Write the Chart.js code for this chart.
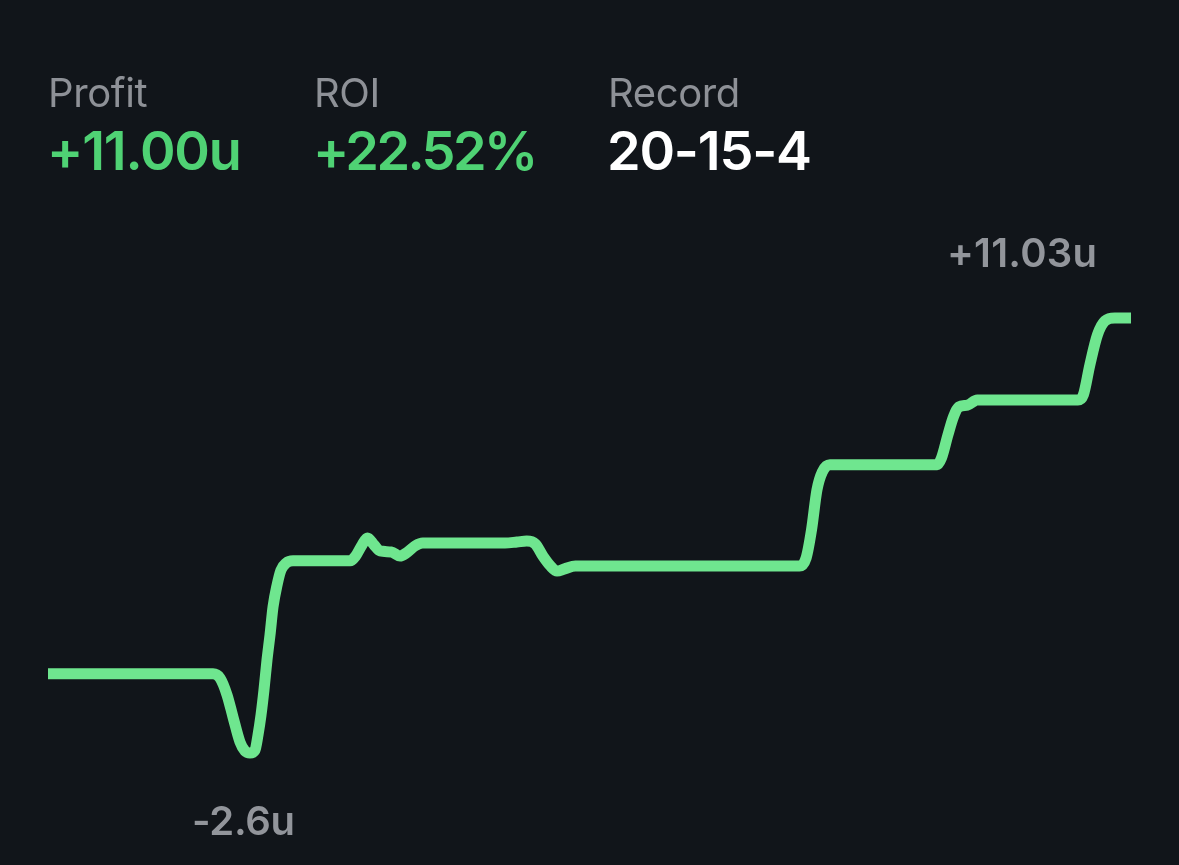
<!DOCTYPE html>
<html>
<head>
<meta charset="utf-8">
<title>Profit</title>
<script src="https://cdn.jsdelivr.net/npm/chart.js@4/dist/chart.umd.min.js"></script>
<style>
  html, body { margin: 0; padding: 0; background: #11151a; overflow: hidden; }
  body { width: 1179px; height: 865px; position: relative; font-family: Inter, "Noto Sans", sans-serif; }
  #wrap { position: absolute; left: 0; top: 0; width: 1179px; height: 865px; }
  .txt { position: absolute; white-space: nowrap; line-height: 1; }
  .head { font-size: 40px; color: #8e9197; font-weight: 400; letter-spacing: -0.4px; top: 73px; }
  .val { font-size: 54px; font-weight: 600; letter-spacing: -1.2px; top: 124px; }
  .note { font-size: 40px; font-weight: 600; color: #92959b; letter-spacing: 0.2px; }
</style>
</head>
<body>
<div id="wrap"><canvas id="profitChart" width="1179" height="865"></canvas></div>
<div class="txt head" style="left:48px">Profit</div>
<div class="txt val" id="profitVal" style="left:47px;color:#4fd274"></div>
<div class="txt head" style="left:314px">ROI</div>
<div class="txt val" id="roiVal" style="left:313px;color:#4fd274;letter-spacing:-2.6px"></div>
<div class="txt head" style="left:608px">Record</div>
<div class="txt val" id="recordVal" style="left:607px;color:#ffffff"></div>
<div class="txt note" id="maxNote" style="left:947px;top:233px"></div>
<div class="txt note" id="minNote" style="left:192px;top:801px;letter-spacing:-0.3px"></div>
<script>
// summary numbers
const profitText = '+11.00u';
const roiText = '+22.52%';
const recordText = '20-15-4';
const maxLabel = '+11.03u';
const minLabel = '-2.6u';

// progress along the period (%), profit in units
const progress = [
    0, 9.4, 15.24, 15.88, 16.53, 17.08, 17.73, 18.19, 18.65, 19.11, 19.39, 19.67, 19.94, 20.22, 20.5, 20.78, 21.15, 21.51, 21.98, 22.62,
    27.9, 28.4, 29.0, 29.5, 30.1, 30.66, 31.7, 32.5, 33.1, 33.9, 34.6,
    42.2, 43.3, 44.2, 45.0, 45.7, 46.4, 47.0, 47.7, 48.7,
    69.4, 70.0, 70.5, 71.0, 71.5, 72.2,
    82.1, 82.5, 83.1, 83.6, 84.1, 84.9, 85.8,
    95.1, 95.6, 96.2, 96.9, 97.6, 98.5, 100
];
const profit = [
    -0.12, -0.12, -0.12, -0.25, -0.78, -1.47, -2.26, -2.54, -2.6, -2.51, -2.04, -1.41, -0.63, 0.31, 1.10, 1.98, 2.66, 3.13, 3.35, 3.42,
    3.42, 3.57, 3.92, 4.14, 3.92, 3.73, 3.70, 3.57, 3.67, 3.89, 3.98,
    3.98, 4.01, 4.04, 3.95, 3.57, 3.26, 3.10, 3.17, 3.26,
    3.26, 3.51, 4.39, 5.64, 6.21, 6.43,
    6.43, 6.64, 7.37, 7.93, 8.24, 8.30, 8.46,
    8.46, 8.62, 9.56, 10.5, 10.94, 11.03, 11.03
];

document.getElementById('profitVal').textContent = profitText;
document.getElementById('roiVal').textContent = roiText;
document.getElementById('recordVal').textContent = recordText;
document.getElementById('maxNote').textContent = maxLabel;
document.getElementById('minNote').textContent = minLabel;

const ctx = document.getElementById('profitChart').getContext('2d');
new Chart(ctx, {
    type: 'line',
    data: {
        labels: progress,
        datasets: [{
            data: progress.map((p, i) => ({ x: p, y: profit[i] })),
            borderColor: '#6fe68f',
            borderWidth: 11,
            pointRadius: 0,
            fill: false,
            clip: false,
            cubicInterpolationMode: 'monotone'
        }]
    },
    options: {
        responsive: false,
        animation: false,
        layout: { padding: { left: 48, right: 48, top: 318, bottom: 112 } },
        plugins: { legend: { display: false }, tooltip: { enabled: false } },
        scales: {
            x: { type: 'linear', display: false, min: 0, max: 100 },
            y: { type: 'linear', display: false, min: -2.6, max: 11.03 }
        }
    }
});
</script>
</body>
</html>
